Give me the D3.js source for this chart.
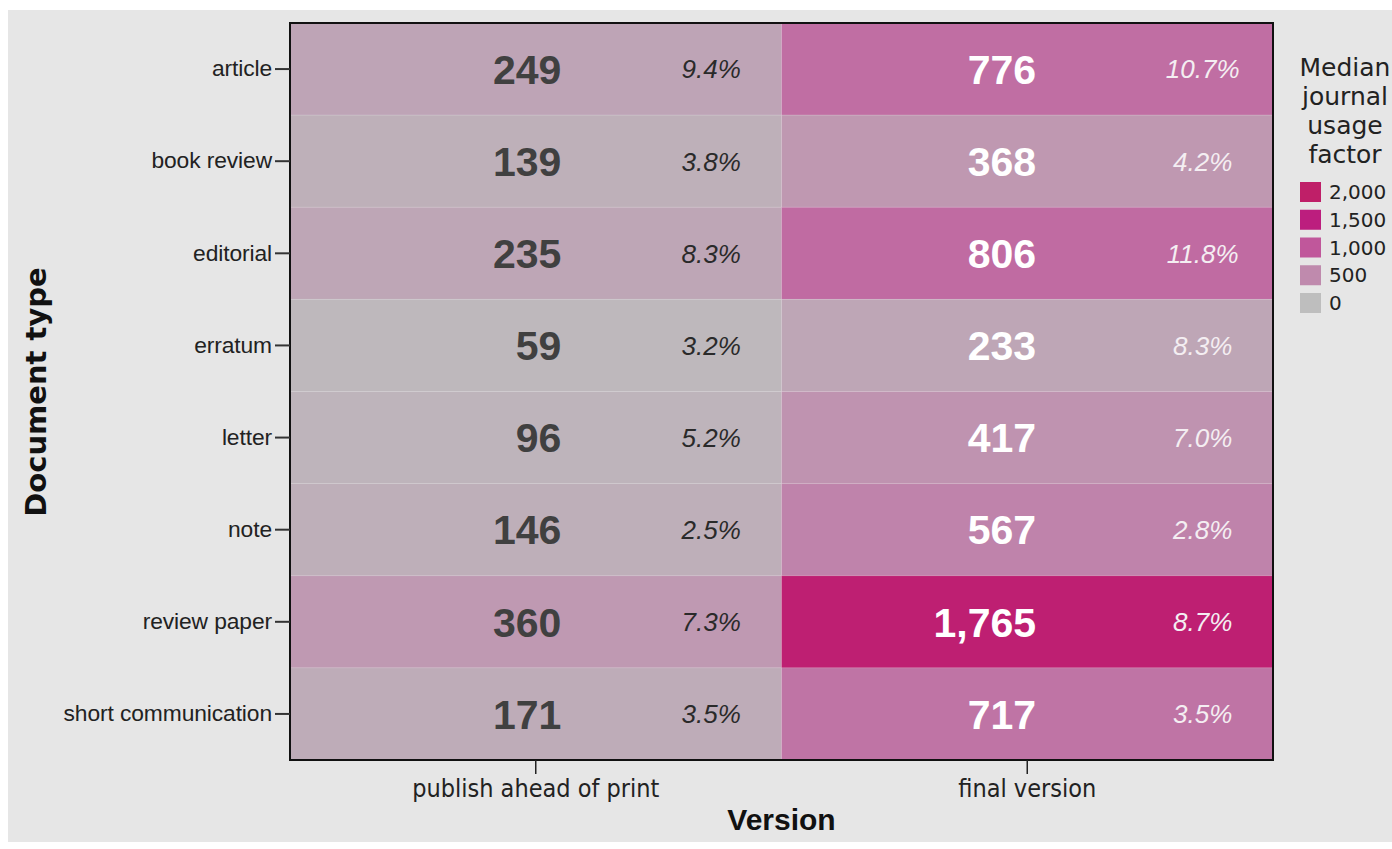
<!DOCTYPE html>
<meta charset="utf-8">
<style>
body { margin: 0; background: #fff; }
.ytick text { font-family: "Liberation Sans", Arial, sans-serif; font-size: 22.8px; fill: #222; letter-spacing: -0.1px; }
.xtick text { font-family: "DejaVu Sans Condensed", "DejaVu Sans", sans-serif; font-size: 25px; fill: #222; }
.axis-title { font-family: "Liberation Sans", Arial, sans-serif; font-weight: bold; fill: #111; }
.val { font-family: "Liberation Sans", Arial, sans-serif; font-weight: bold; font-size: 41px; }
.pct { font-family: "Liberation Sans", Arial, sans-serif; font-style: italic; font-size: 26px; }
.legend text { font-family: "DejaVu Sans", sans-serif; fill: #222; }
</style>
<body>
<script src="https://d3js.org/d3.v7.min.js"></script>
<script>

    // data
    let categories = ["article", "book review", "editorial", "erratum", "letter", "note", "review paper", "short communication"];
    let versions = ["publish ahead of print", "final version"];
    let medianAhead = [249, 139, 235, 59, 96, 146, 360, 171];
    let medianFinal = [776, 368, 806, 233, 417, 567, 1765, 717];
    let pctAhead = ["9.4%", "3.8%", "8.3%", "3.2%", "5.2%", "2.5%", "7.3%", "3.5%"];
    let pctFinal = ["10.7%", "4.2%", "11.8%", "8.3%", "7.0%", "2.8%", "8.7%", "3.5%"];
    let legendTicks = [2000, 1500, 1000, 500, 0];

    let W = 1392, H = 849;
    let margin = {top: 23, left: 290, right: 119, bottom: 89};
    let width = W - margin.left - margin.right,
        height = 737;

    let svg = d3.select("body").append("svg")
        .attr("width", W)
        .attr("height", H);

    // grey panel
    svg.append("rect")
        .attr("x", 8).attr("y", 10)
        .attr("width", W - 8).attr("height", 832)
        .attr("fill", "#e6e6e6");

    let x = d3.scaleBand().domain(versions).range([0, width]);
    let y = d3.scaleBand().domain(categories).range([0, height]);

    let color = d3.scaleLinear()
        .domain([0, 500, 1000, 1500, 2000])
        .range(["#bebebe", "#bf8aad", "#c0579b", "#bc1e7e", "#bf1f68"]);

    // build cells
    let cells = [];
    categories.forEach(function (c, i) {
        cells.push({cat: c, ver: versions[0], value: medianAhead[i], pct: pctAhead[i], col: 0});
        cells.push({cat: c, ver: versions[1], value: medianFinal[i], pct: pctFinal[i], col: 1});
    });

    let g = svg.append("g")
        .attr("transform", "translate(" + margin.left + "," + margin.top + ")");

    g.selectAll("rect.cell").data(cells)
        .enter().append("rect")
        .attr("class", "cell")
        .attr("x", function (d) { return x(d.ver); })
        .attr("y", function (d) { return y(d.cat); })
        .attr("width", x.bandwidth())
        .attr("height", y.bandwidth())
        .attr("fill", function (d) { return color(d.value); })
        .attr("stroke", "rgba(255,255,255,0.12)")
        .attr("stroke-width", 1);

    // where the labels sit inside a cell (fractions of the band)
    let valueAnchor = [0.552, 0.518];
    let fmt = d3.format(",");

    g.selectAll("text.val").data(cells)
        .enter().append("text")
        .attr("class", "val")
        .attr("text-anchor", "end")
        .attr("x", function (d) { return x(d.ver) + x.bandwidth() * valueAnchor[d.col]; })
        .attr("y", function (d) { return y(d.cat) + y.bandwidth() / 2; })
        .attr("dy", "0.36em")
        .attr("fill", function (d) { return d.col === 0 ? "#404040" : "#ffffff"; })
        .text(function (d) { return fmt(d.value); });

    g.selectAll("text.pct").data(cells)
        .enter().append("text")
        .attr("class", "pct")
        .attr("text-anchor", "middle")
        .attr("x", function (d) { return x(d.ver) + x.bandwidth() * 0.857; })
        .attr("y", function (d) { return y(d.cat) + y.bandwidth() / 2; })
        .attr("dy", "0.36em")
        .attr("fill", function (d) { return d.col === 0 ? "#2a2a2a" : "#f4eef2"; })
        .text(function (d) { return d.pct; });

    // frame
    g.append("rect")
        .attr("width", width).attr("height", height)
        .attr("fill", "none")
        .attr("stroke", "#111")
        .attr("stroke-width", 2);

    // y axis
    let yAxis = g.append("g").attr("class", "ytick")
        .call(d3.axisLeft(y).tickSize(15).tickPadding(3));
    yAxis.select(".domain").remove();
    yAxis.selectAll("line").attr("stroke", "#333").attr("stroke-width", 2);

    // x axis
    let xAxis = g.append("g").attr("class", "xtick")
        .attr("transform", "translate(0," + height + ")")
        .call(d3.axisBottom(x).tickSize(14).tickPadding(5));
    xAxis.select(".domain").remove();
    xAxis.selectAll("line").attr("stroke", "#222").attr("stroke-width", 1.5);

    svg.append("text")
        .attr("class", "axis-title")
        .attr("x", margin.left + width / 2)
        .attr("y", 830)
        .attr("text-anchor", "middle")
        .style("font-size", "30px")
        .text("Version");

    svg.append("text")
        .attr("class", "axis-title")
        .attr("transform", "translate(46," + 392 + ") rotate(-90)")
        .attr("text-anchor", "middle")
        .style("font-family", "'DejaVu Sans', sans-serif")
        .style("font-size", "29px")
        .text("Document type");

    // legend
    let legend = svg.append("g").attr("class", "legend");
    let titleLines = ["Median", "journal", "usage", "factor"];
    legend.selectAll("text.title").data(titleLines)
        .enter().append("text")
        .attr("class", "title")
        .attr("x", 1345)
        .attr("y", function (d, i) { return 76 + i * 29; })
        .attr("text-anchor", "middle")
        .style("font-size", "25px")
        .text(function (d) { return d; });

    let ly = d3.scalePoint().domain(legendTicks).range([192, 303]);
    legend.selectAll("rect.sw").data(legendTicks)
        .enter().append("rect")
        .attr("class", "sw")
        .attr("x", 1300)
        .attr("y", function (d) { return ly(d) - 10; })
        .attr("width", 21).attr("height", 20)
        .attr("fill", function (d) { return color(d); });
    legend.selectAll("text.lab").data(legendTicks)
        .enter().append("text")
        .attr("class", "lab")
        .attr("x", 1329)
        .attr("y", function (d) { return ly(d); })
        .attr("dy", "0.36em")
        .style("font-size", "20px")
        .text(function (d) { return fmt(d); });

</script>
</body>
